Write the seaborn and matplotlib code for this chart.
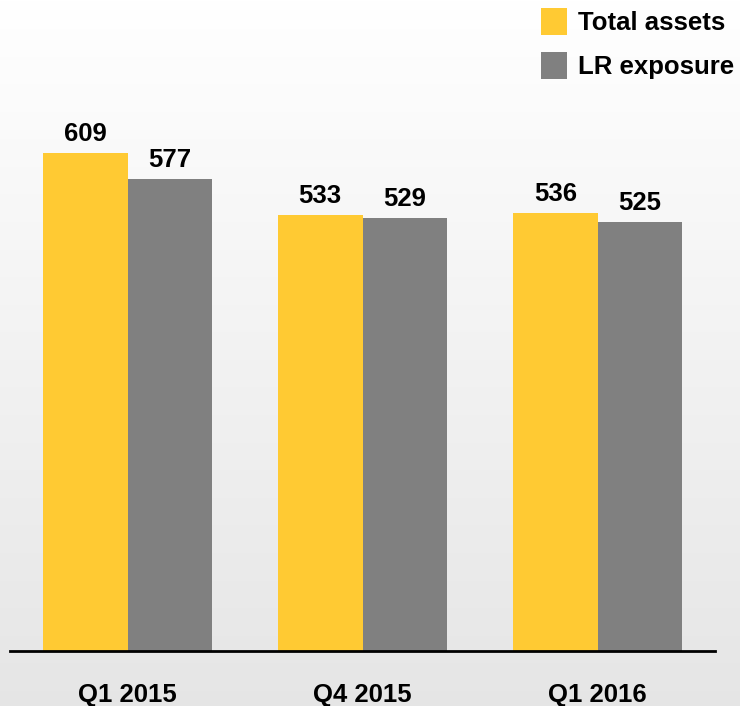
import numpy as np
import pandas as pd
import matplotlib
matplotlib.use("Agg")
import matplotlib.pyplot as plt
import seaborn as sns

categories = ["Q1 2015", "Q4 2015", "Q1 2016"]
series_names = ["Total assets", "LR exposure"]
total_assets = [609, 533, 536]
lr_exposure = [577, 529, 525]
colors = ["#FFCA33", "#808080"]

df = pd.DataFrame({
    "period": categories * 2,
    "series": [series_names[0]] * 3 + [series_names[1]] * 3,
    "value": total_assets + lr_exposure,
})

sns.set_theme(style="white")
plt.rcParams["font.family"] = ["Liberation Sans", "DejaVu Sans"]
plt.rcParams["font.weight"] = "bold"

FS = 18.5

fig = plt.figure(figsize=(7.4, 7.06), dpi=100)

# background gradient
bg = fig.add_axes([0, 0, 1, 1], zorder=-10)
grad = np.linspace(1.0, 0.90, 256).reshape(-1, 1)
bg.imshow(np.dstack([grad, grad, grad]), aspect="auto", extent=[0, 1, 0, 1])
bg.axis("off")

ax = fig.add_axes([10 / 740, 55 / 706, 705 / 740, 638 / 706])
ax.patch.set_alpha(0)
sns.barplot(data=df, x="period", y="value", hue="series", palette=colors,
            saturation=1, width=0.72, ax=ax, legend=True, linewidth=0,
            edgecolor="none")

ax.set_xlim(-0.5, 2.5)
ax.set_ylim(0, 780)
for c in ax.containers:
    ax.bar_label(c, fmt="%d", padding=5, fontsize=FS, fontweight="bold", color="black")

for s in ["top", "left", "right"]:
    ax.spines[s].set_visible(False)
ax.spines["bottom"].set_color("black")
ax.spines["bottom"].set_linewidth(2)
ax.set_yticks([])
ax.set_xlabel("")
ax.set_ylabel("")
ax.tick_params(axis="x", length=0, pad=23, labelsize=FS)
for t in ax.get_xticklabels():
    t.set_fontweight("bold")
    t.set_color("black")

handles, labels = ax.get_legend_handles_labels()
ax.get_legend().remove()
leg = fig.legend(handles, labels, loc="upper left",
                 bbox_to_anchor=(541 / 740, 1 - 8 / 706), bbox_transform=fig.transFigure,
                 frameon=False, fontsize=FS, borderpad=0, borderaxespad=0,
                 handlelength=1.01, handleheight=1.24, handletextpad=0.42,
                 labelspacing=0.65)
for t in leg.get_texts():
    t.set_fontweight("bold")
    t.set_color("black")

fig.savefig("out.png", dpi=100)
